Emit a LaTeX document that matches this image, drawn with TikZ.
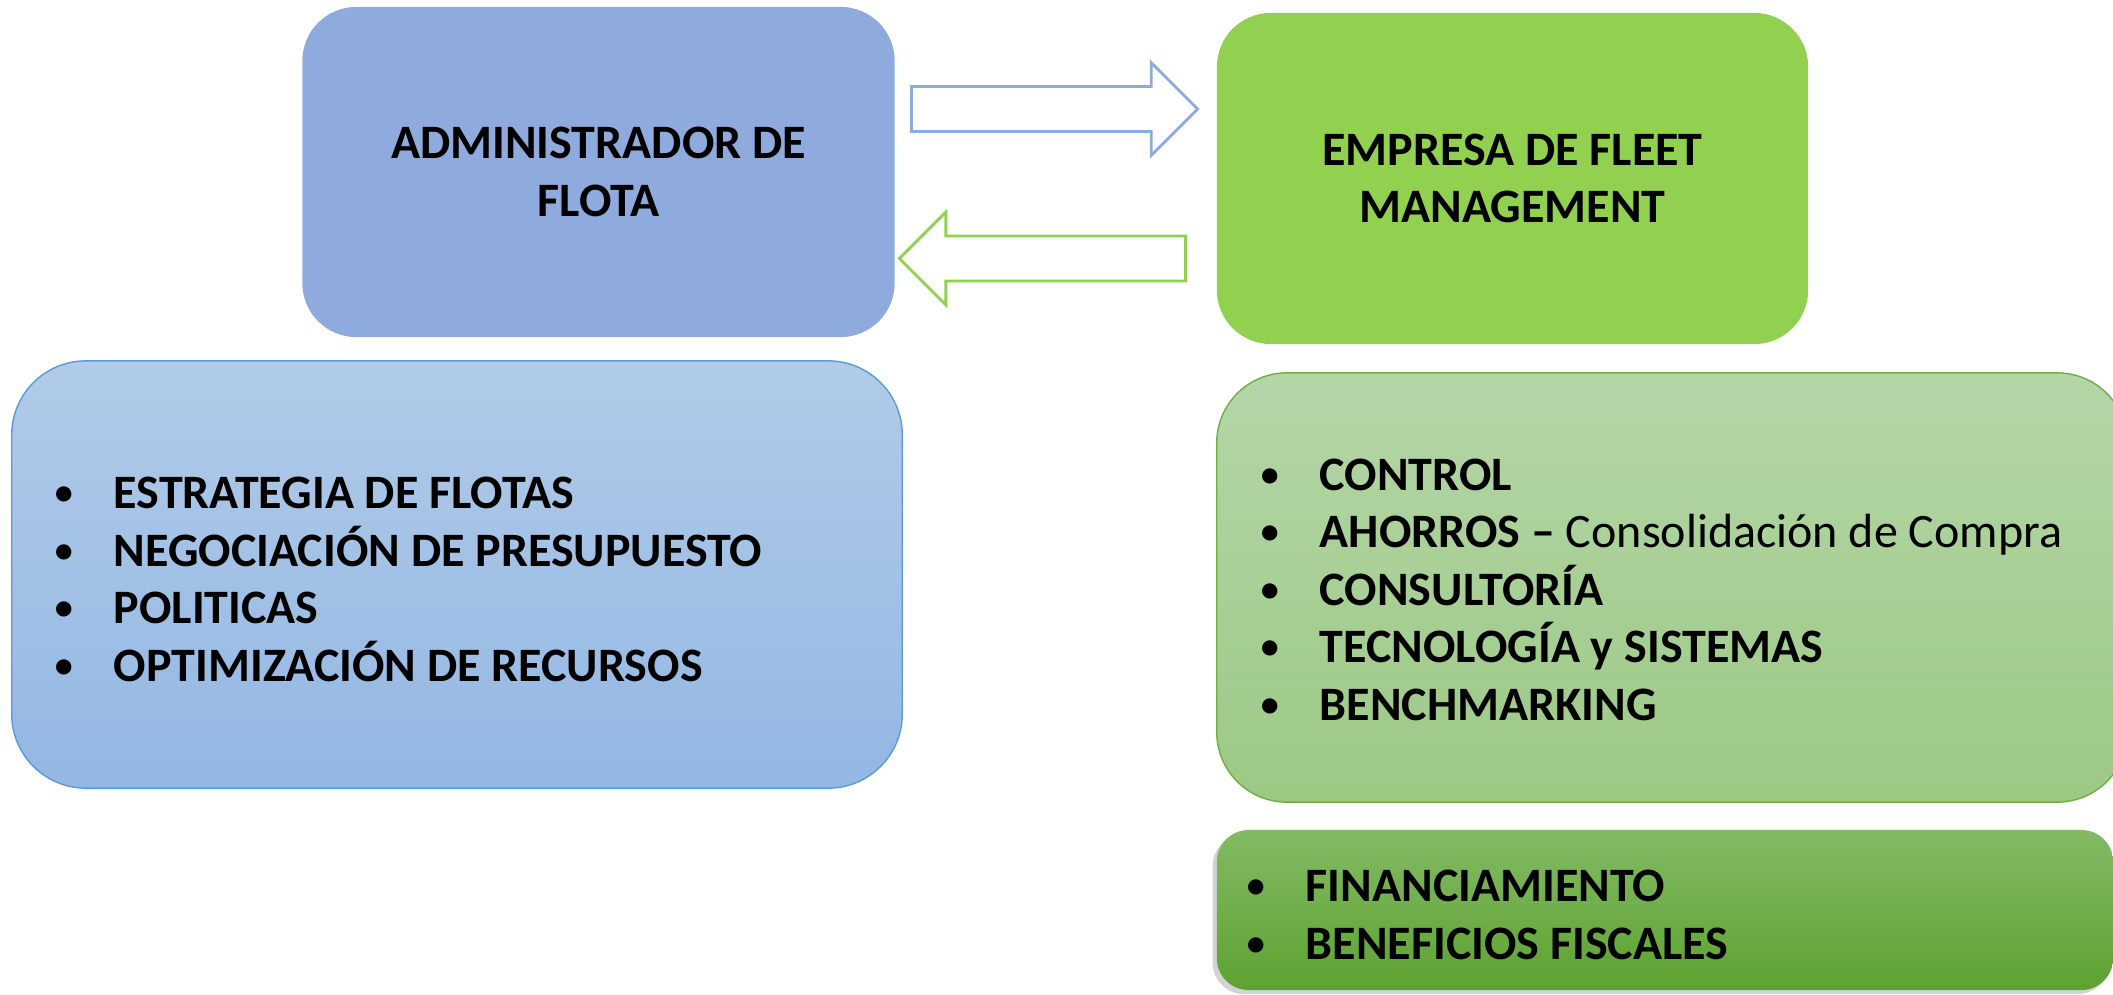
\documentclass[tikz,border=0pt]{standalone}
\usepackage{fontspec}
\setmainfont{Carlito}
\usepackage{xcolor}
\usetikzlibrary{positioning, shapes.arrows, shadows}

\definecolor{adminblue}{HTML}{8FAADC}
\definecolor{fleetgreen}{HTML}{92D050}
\definecolor{listbluetop}{HTML}{B1CBE9}
\definecolor{listbluebot}{HTML}{93B7E3}
\definecolor{listblueline}{HTML}{5B9BD5}
\definecolor{listgreentop}{HTML}{B5D6A8}
\definecolor{listgreenbot}{HTML}{9CC984}
\definecolor{listgreenline}{HTML}{70AD47}
\definecolor{darkgreentop}{HTML}{83BA64}
\definecolor{darkgreenbot}{HTML}{5DA231}

\newcommand{\bul}{\makebox[0.59cm][l]{\raisebox{1.1pt}{\scalebox{0.75}{\textbullet}}}}

\tikzset{
	titlebox/.style = {rounded corners = 0.54cm, minimum width = 5.92cm, minimum height = 3.30cm, inner sep = 0pt, align = center, font = \bfseries\fontsize{13.65}{16.35}\selectfont},
	listbox/.style = {draw, line width = 0.4pt, inner sep = 0pt},
	listtext/.style = {align = left, inner sep = 0pt, font = \bfseries\fontsize{13.65}{16.35}\selectfont},
	blockarrow/.style = {single arrow, draw, fill = white, line width = 0.8pt, minimum height = 2.86cm, single arrow head extend = 0.24cm, inner xsep = 0pt, inner ysep = 0.21cm}
}

\begin{document}
\begin{tikzpicture}[x = 0.01cm, y = -0.01cm]
	\useasboundingbox (0,0) rectangle (2113,994);
	\clip (0,0) rectangle (2113,994);

	\begin{scope}
		\node[titlebox, fill = adminblue] (admin) at (598.5,172) {ADMINISTRADOR DE\\FLOTA};
		\node[titlebox, fill = fleetgreen, minimum width = 5.91cm, minimum height = 3.31cm] (fleet) at (1512.5,178.5) {EMPRESA DE FLEET\\MANAGEMENT};
	\end{scope}

	\begin{scope}
		\node[blockarrow, draw = adminblue, anchor = tail] (toFleet) at (910,109) {};
		\node[blockarrow, draw = fleetgreen, shape border rotate = 180, anchor = tail] (toAdmin) at (1187,258.5) {};
	\end{scope}

	\begin{scope}
		\node[listbox, rounded corners = 0.74cm, draw = listblueline, top color = listbluetop, bottom color = listbluebot, minimum width = 8.90cm, minimum height = 4.27cm] (adminTasks) at (457,574.5) {};
		\node[listbox, rounded corners = 0.70cm, draw = listgreenline, top color = listgreentop, bottom color = listgreenbot, minimum width = 9.10cm, minimum height = 4.29cm] (fleetTasks) at (1672,587.5) {};
		\node[listbox, draw = none, rounded corners = 0.32cm, top color = darkgreentop, bottom color = darkgreenbot, minimum width = 8.96cm, minimum height = 1.60cm, drop shadow = {shadow xshift = -1.2pt, shadow yshift = -1.2pt, opacity = 0.35}] (fleetExtra) at (1665,910) {};
	\end{scope}

	\begin{scope}[every node/.style = {listtext, anchor = west}]
		\node[right = 0.43cm of adminTasks.west, yshift = -0.05cm] (adminList) {\bul ESTRATEGIA DE FLOTAS\\\bul NEGOCIACIÓN DE PRESUPUESTO\\\bul POLITICAS\\\bul OPTIMIZACIÓN DE RECURSOS};
		\node[right = 0.44cm of fleetTasks.west, yshift = -0.02cm] (fleetList) {\bul CONTROL\\\bul AHORROS -- {\mdseries Consolidación de Compra}\\\bul CONSULTORÍA\\\bul TECNOLOGÍA y SISTEMAS\\\bul BENCHMARKING};
		\node[right = 0.30cm of fleetExtra.west, yshift = -0.05cm] (extraList) {\bul FINANCIAMIENTO\\\bul BENEFICIOS FISCALES};
	\end{scope}
\end{tikzpicture}
\end{document}
